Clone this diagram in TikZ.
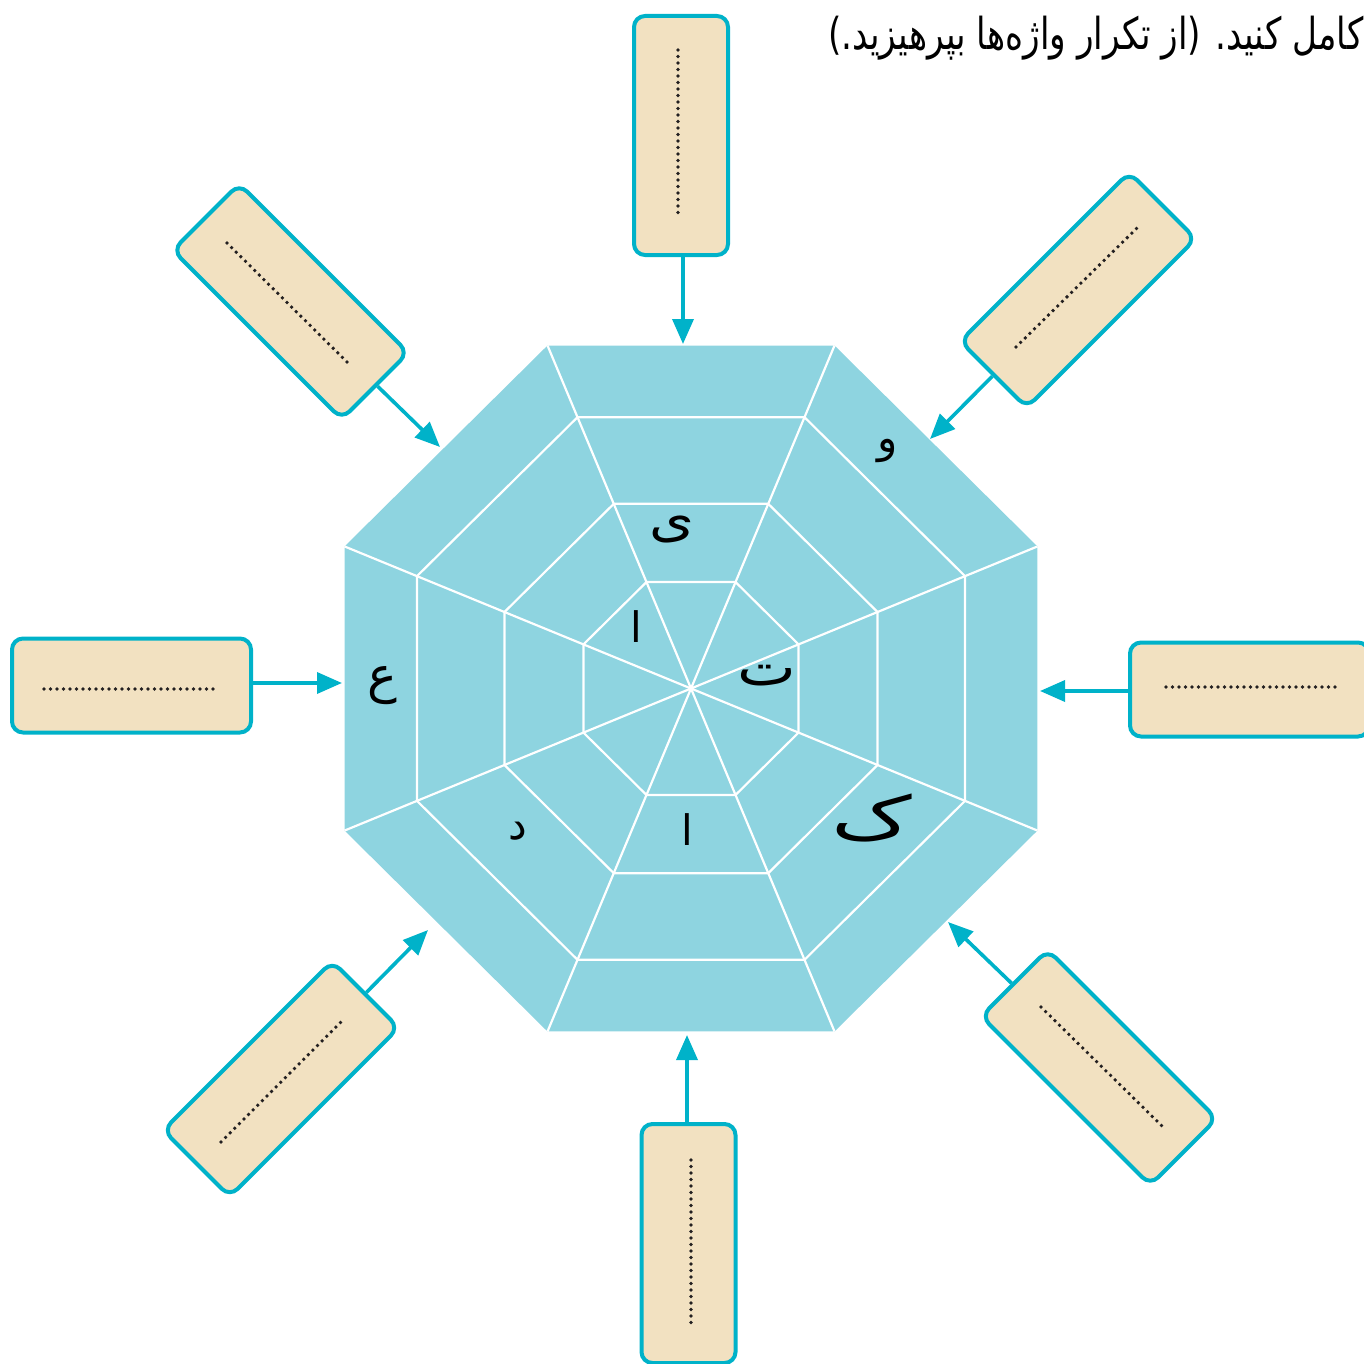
\documentclass[tikz,border=0pt]{standalone}
\usepackage{fontspec}
\newfontfamily\arabicfont[Script=Arabic]{DejaVu Sans}
\TeXXeTstate=1
\usetikzlibrary{arrows.meta,calc}
\definecolor{octfill}{HTML}{8ED4E0}
\definecolor{boxfill}{HTML}{F2E1C1}
\definecolor{myteal}{HTML}{00B2C9}
\definecolor{dotcol}{HTML}{231F20}
\begin{document}
\begin{tikzpicture}[x=0.5pt,y=-0.5pt,
  wbox/.style={draw=myteal, fill=boxfill, line width=2pt, rounded corners=5.5pt,
    minimum width=119.5pt, minimum height=47pt, inner sep=0pt},
  arr/.style={draw=myteal, line width=1.8pt, -{Triangle[length=12.5pt,width=10.5pt]}},
  dots/.style={draw=dotcol, line width=1.9pt, line cap=round, dash pattern=on 0pt off 3.25pt},
  cellline/.style={draw=white, line width=1.1pt},
  letter/.style={font=\arabicfont\fontsize{21}{24}\selectfont, inner sep=0pt, text=black},
  bigletter/.style={font=\arabicfont\fontsize{25}{28}\selectfont, inner sep=0pt, text=black},
  heading/.style={font=\arabicfont\fontsize{22}{26}\selectfont, inner sep=0pt, text=black}]
\useasboundingbox (0,0) rectangle (1364,1364);

% octagon
\begin{scope}[shift={(691,688.5)}, yscale=0.99]
  \fill[octfill] (22.5:375) -- (67.5:375) -- (112.5:375) -- (157.5:375) -- (202.5:375) -- (247.5:375) -- (292.5:375) -- (337.5:375) -- cycle;
  \foreach \R in {296.6,201.9,116.4}
    \draw[cellline] (22.5:\R) -- (67.5:\R) -- (112.5:\R) -- (157.5:\R) -- (202.5:\R) -- (247.5:\R) -- (292.5:\R) -- (337.5:\R) -- cycle;
  \foreach \a in {22.5,67.5,112.5,157.5,202.5,247.5,292.5,337.5}
    \draw[cellline] (0,0) -- (\a:375);
\end{scope}

% letters
\node[bigletter, xscale=1.15] (l1) at (672,530) {\beginR ی\endR};
\node[letter] (l2) at (636,627) {\beginR ا\endR};
\node[letter, font=\arabicfont\fontsize{26}{28}\selectfont, xscale=1.2] (l3) at (767,676) {\beginR ت\endR};
\node[letter] (l4) at (687,830) {\beginR ا\endR};
\node[letter] (l5) at (888,451) {\beginR و\endR};
\node[letter, font=\arabicfont\fontsize{30}{32}\selectfont, xscale=1.5] (l6) at (872,818) {\beginR ک\endR};
\node[letter] (l7) at (518,831) {\beginR د\endR};
\node[bigletter] (l8) at (382,686) {\beginR ع\endR};

% boxes
\node[wbox, rotate=90]  (bT)  at (681,135.5) {};
\node[wbox, rotate=45]  (bUR) at (1078,290) {};
\node[wbox]             (bR)  at (1249.5,689.5) {};
\node[wbox, rotate=-45] (bLR) at (1099,1067.5) {};
\node[wbox, rotate=90]  (bB)  at (688.5,1243.5) {};
\node[wbox, rotate=45]  (bLL) at (281,1079) {};
\node[wbox]             (bL)  at (131.5,685.5) {};
\node[wbox, rotate=-45] (bUL) at (290.5,301.5) {};

% dotted lines
\draw[dots] (678,50) -- (678,219);
\draw[dots] (1016,347) -- (1137,228);
\draw[dots] (1166,687) -- (1337,687);
\draw[dots] (1041,1007) -- (1162,1126);
\draw[dots] (691,1160) -- (691,1329);
\draw[dots] (221,1142) -- (341,1022);
\draw[dots] (44,689) -- (216,689);
\draw[dots] (227,243) -- (348,363);

% arrow targets
\coordinate (tT)  at (683,344);
\coordinate (tUR) at (930,439);
\coordinate (tR)  at (1040,691);
\coordinate (tLR) at (948,922);
\coordinate (tB)  at (687,1035);
\coordinate (tLL) at (428,930);
\coordinate (tL)  at (342,683);
\coordinate (tUL) at (440,447);

\draw[arr] (bT.west -| tT) -- (tT);
\draw[arr] (bUR) -- (tUR);
\draw[arr] (bR.west |- tR) -- (tR);
\draw[arr] (bLR) -- (tLR);
\draw[arr] (bB.east -| tB) -- (tB);
\draw[arr] (bLL) -- (tLL);
\draw[arr] (bL.east |- tL) -- (tL);
\draw[arr] (bUL) -- (tUL);

% heading
\node[heading, anchor=base east, xscale=0.78] (title) at (1364,50) {\beginR کامل کنید. (از تکرار واژه‌ها بپرهیزید.)\endR};
\end{tikzpicture}
\end{document}
